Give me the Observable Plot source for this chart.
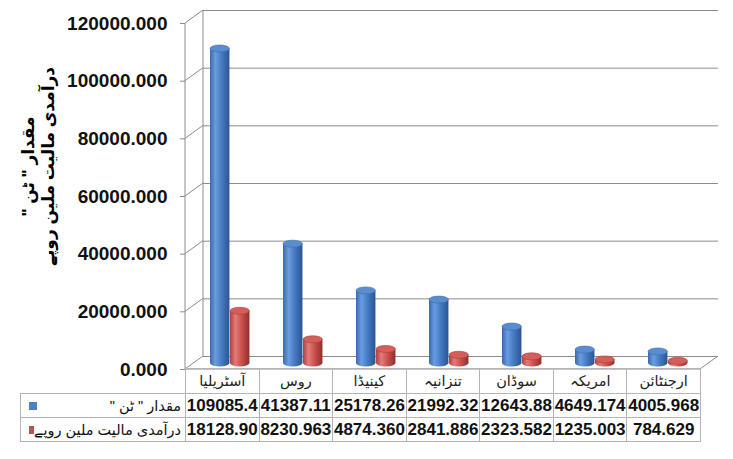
<!DOCTYPE html>
<html><head><meta charset="utf-8">
<script src="https://cdn.jsdelivr.net/npm/d3@7"></script>
<script src="https://cdn.jsdelivr.net/npm/@observablehq/plot@0.6"></script>
<style>
body{margin:0;background:#fff;font-family:"Liberation Sans",Arial,"DejaVu Sans",sans-serif;}
#wrap{position:relative;width:733px;height:459px;overflow:hidden;background:#fff;}
#wrap svg{position:absolute;left:0;top:0;overflow:visible;}
table{position:absolute;left:20px;top:368px;border-collapse:collapse;table-layout:fixed;}
td{border:1px solid #b4b4b4;padding:0;text-align:center;font-size:17px;font-weight:bold;color:#111;white-space:nowrap;overflow:hidden;line-height:20px;}
td.hd{font-weight:normal;font-size:14.5px;color:#222;}
td.lg{font-weight:normal;font-size:14.5px;color:#111;}
td.blank{border-top:none;border-left:none;}
.lgbox{display:flex;flex-direction:row;justify-content:space-between;align-items:center;padding:0 4px 0 8px;direction:ltr;}
.lgtext{direction:rtl;unicode-bidi:isolate;}
.sw{display:inline-block;width:8px;height:8px;}
</style></head>
<body><div id="wrap"></div>
<script>
const countries = ["آسٹریلیا","روس","کینیڈا","تنزانیہ","سوڈان","امریکہ","ارجنٹائن"];
const quantityTons = [109085.4,41387.11,25178.26,21992.32,12643.88,4649.174,4005.968];
const importValueMillionRs = [18128.90,8230.963,4874.360,2841.886,2323.582,1235.003,784.629];
const seriesNames = ['مقدار " ٹن "', "درآمدی مالیت ملین روپے"];
const seriesColors = ["#4f81bd", "#c0504d"];
const yTicks = [0,20000,40000,60000,80000,100000,120000];
const yTitle = ['مقدار " ٹن "', "درآمدی مالیت ملین روپے"];

const W = 733, H = 372, mL = 185, mR = 33, mT = 23, mB = 3;
const bw = (W - mL - mR) / countries.length;
const rows = countries.map((c, i) => ({country: c, q: quantityTons[i], v: importValueMillionRs[i]}));
const RLM = "\u200F";

const plot = Plot.plot({
  width: W, height: H, marginLeft: mL, marginRight: mR, marginTop: mT, marginBottom: mB,
  style: {overflow: "visible", fontFamily: "Liberation Sans, Arial, DejaVu Sans, sans-serif", background: "transparent"},
  x: {domain: countries, padding: 0, axis: null},
  y: {domain: [0, 120000], axis: null},
  marks: [
    Plot.ruleY(yTicks, {dx: 18, dy: -13, stroke: "#8c8c8c", strokeWidth: 1}),
    Plot.axisY({ticks: yTicks, tickFormat: d3.format(".3f"), tickSize: 5, tickPadding: 13,
      fontSize: 19, fontWeight: "bold", fill: "#111", stroke: "#8c8c8c"}),
    Plot.barY(rows, {x: "country", y: "q", fill: "url(#gBlue)", insetLeft: 23, insetRight: bw - 43, dy: -6}),
    Plot.barY(rows, {x: "country", y: "v", fill: "url(#gRed)", insetLeft: 43, insetRight: bw - 63, dy: -6}),
    Plot.text([yTitle.map(s => RLM + s + RLM).join("\n")], {frameAnchor: "left", textAnchor: "middle", rotate: -90,
      dx: -148, dy: -30, fontSize: 17, fontWeight: "bold", lineHeight: 1.2, fill: "#000"})
  ]
});
document.getElementById("wrap").appendChild(plot);

// gradients for cylinder look
const svg = d3.select(plot);
const defs = svg.insert("defs", ":first-child");
function grad(id, stops) {
  const g = defs.append("linearGradient").attr("id", id).attr("x1", 0).attr("x2", 1).attr("y1", 0).attr("y2", 0);
  stops.forEach(([o, c]) => g.append("stop").attr("offset", o).attr("stop-color", c));
}
grad("gBlue", [[0, "#3a69ad"], [0.28, "#6a9ce2"], [0.6, "#457bc2"], [1, "#2a5494"]]);
grad("gRed", [[0, "#b23f3b"], [0.28, "#e27b77"], [0.6, "#c9504c"], [1, "#8f2f2c"]]);

svg.selectAll("rect").each(function() {
  const r = d3.select(this);
  const fill = r.attr("fill") || d3.select(this.parentNode).attr("fill");
  if (!fill || fill.indexOf("url") < 0) return;
  const x = +r.attr("x"), y = +r.attr("y"), w = +r.attr("width"), h = +r.attr("height");
  const blue = fill.indexOf("gBlue") >= 0;
  const parent = this.parentNode;
  const bottom = document.createElementNS("http://www.w3.org/2000/svg", "ellipse");
  d3.select(bottom).attr("cx", x + w / 2).attr("cy", y + h).attr("rx", w / 2).attr("ry", 3.5).attr("fill", fill);
  parent.insertBefore(bottom, this);
  const top = document.createElementNS("http://www.w3.org/2000/svg", "ellipse");
  d3.select(top).attr("cx", x + w / 2).attr("cy", y).attr("rx", w / 2).attr("ry", 3.5)
    .attr("fill", blue ? "#5a8dd0" : "#d45e5a").attr("stroke", blue ? "#3d6aa8" : "#a83f3c").attr("stroke-width", 0.6);
  if (this.nextSibling) parent.insertBefore(top, this.nextSibling); else parent.appendChild(top);
});

// 3D frame lines from the scales
const ys = plot.scale("y"), xs = plot.scale("x");
const x0 = xs.range[0], x1 = xs.range[1];
const frame = svg.insert("g", "g").attr("stroke", "#8c8c8c").attr("fill", "none");
yTicks.forEach(t => {
  frame.append("line").attr("x1", x0).attr("y1", ys.apply(t)).attr("x2", x0 + 18).attr("y2", ys.apply(t) - 13);
});
frame.append("line").attr("x1", x0).attr("y1", ys.apply(0)).attr("x2", x0).attr("y2", ys.apply(120000));
frame.append("line").attr("x1", x0 + 18).attr("y1", ys.apply(0) - 13).attr("x2", x0 + 18).attr("y2", ys.apply(120000) - 13);
frame.append("line").attr("x1", x1).attr("y1", ys.apply(0)).attr("x2", x1 + 18).attr("y2", ys.apply(0) - 13);
frame.append("line").attr("x1", x0).attr("y1", ys.apply(0)).attr("x2", x1).attr("y2", ys.apply(0));

// data table
const fmt = d => d.toFixed(3).slice(0, 8);
const tbl = d3.select("#wrap").append("table").style("width", (165 + bw * countries.length) + "px");
const cg = tbl.append("colgroup");
cg.append("col").style("width", "165px");
countries.forEach(() => cg.append("col").style("width", bw + "px"));
const hr = tbl.append("tr").style("height", "25px");
hr.append("td").attr("class", "blank");
countries.forEach(c => hr.append("td").attr("class", "hd").attr("dir", "rtl").text(c));
[quantityTons, importValueMillionRs].forEach((vals, si) => {
  const tr = tbl.append("tr").style("height", "24px");
  const box = tr.append("td").attr("class", "lg").append("div").attr("class", "lgbox");
  box.append("span").attr("class", "sw").style("background", seriesColors[si]);
  box.append("span").attr("class", "lgtext").attr("dir", "rtl").text(seriesNames[si]);
  vals.forEach(v => tr.append("td").text(fmt(v)));
});
</script></body></html>
